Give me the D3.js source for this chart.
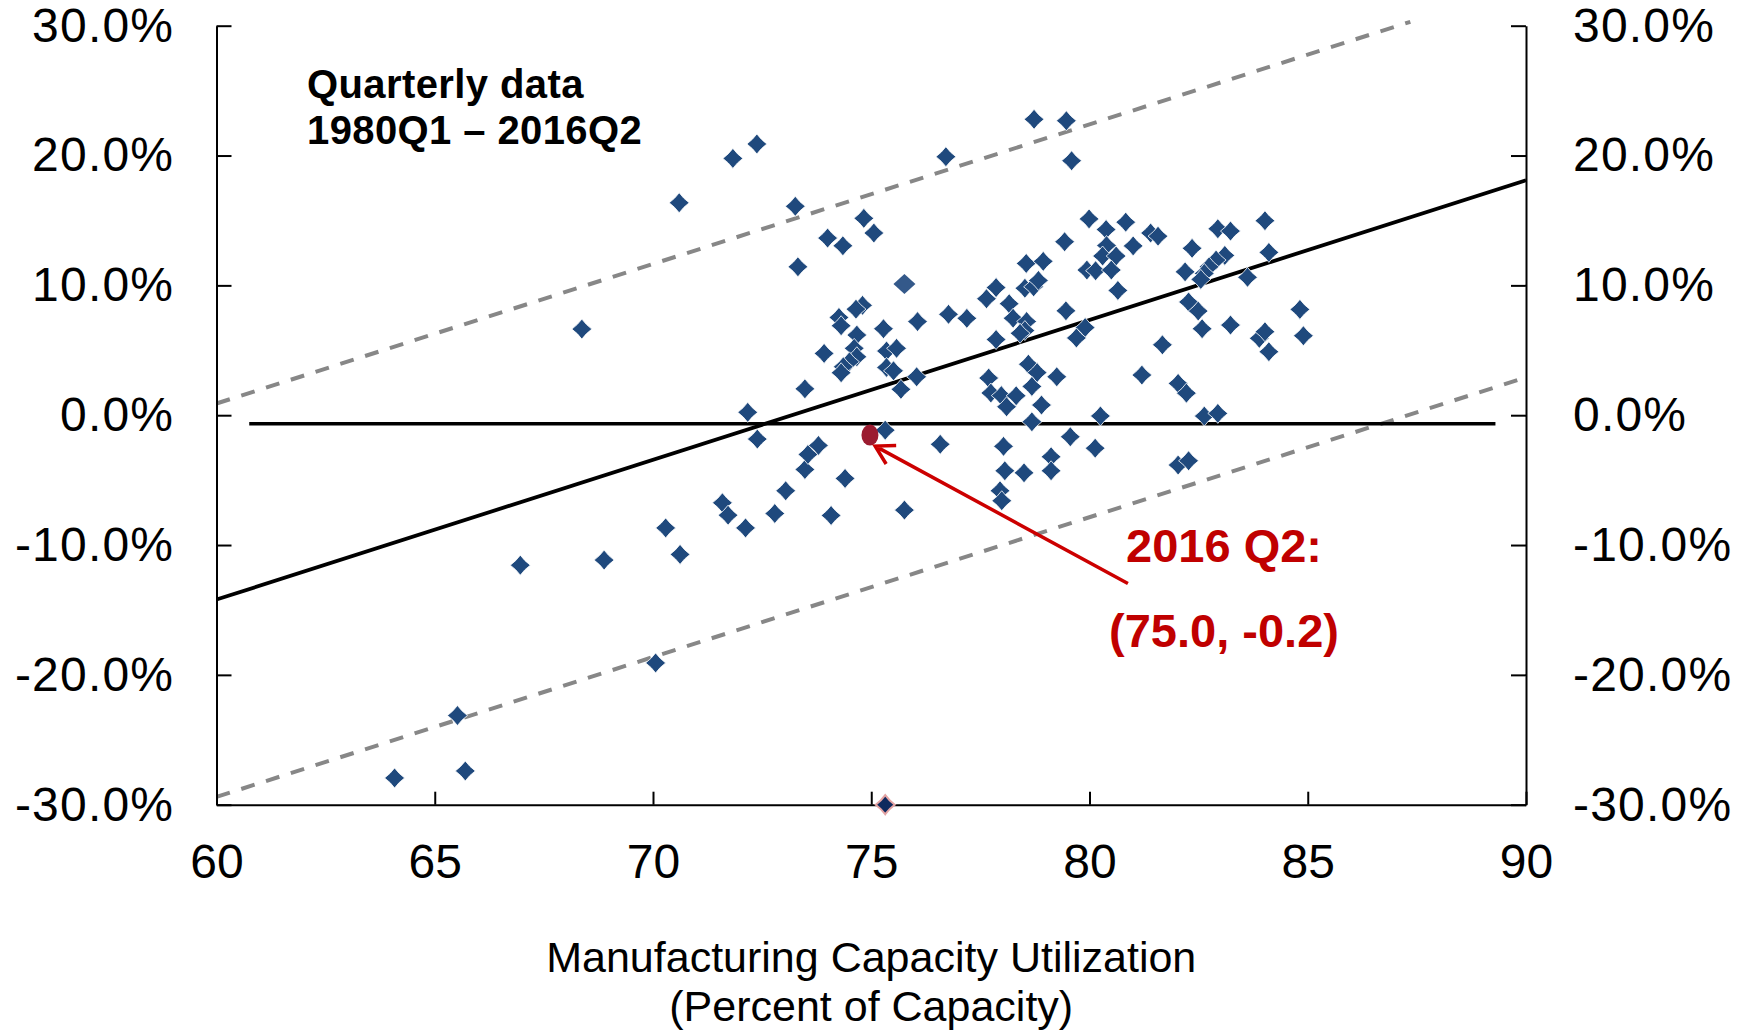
<!DOCTYPE html>
<html>
<head>
<meta charset="utf-8">
<script src="https://cdn.jsdelivr.net/npm/d3@7"></script>
<style>
    body { margin: 0; background: #fff; }
    svg text { font-family: "Liberation Sans", Arial, sans-serif; }
</style>
</head>
<body>
<svg id="chart"></svg>
<script>
// capacity utilization (x) and change (y, %) per quarter
const utilization = [
    64.08, 65.52, 65.70, 66.96, 68.88, 68.37, 70.06, 70.29, 70.62, 70.60,
    71.59, 71.72, 71.83, 72.12, 72.17, 72.39, 72.38, 72.79, 73.04, 73.26,
    73.32, 73.48, 73.48, 73.55, 73.79, 73.92, 74.00, 74.08, 74.40, 74.35,
    74.83, 75.06, 74.80, 74.65, 74.26, 74.31, 74.67, 74.61, 74.67, 74.50,
    74.36, 74.31, 75.28, 75.35, 75.58, 75.35, 75.51, 76.06, 76.04, 75.68,
    75.32, 75.76, 76.58, 76.77, 77.19, 76.71, 77.64, 77.86, 77.86, 78.16,
    78.25, 78.56, 78.52, 78.41, 78.52, 78.72, 78.83, 78.55, 78.94, 78.73,
    79.47, 79.59, 79.46, 79.90, 79.70, 79.43, 79.99, 80.83, 80.38, 81.40,
    81.57, 80.39, 81.00, 80.30, 80.61, 79.94, 80.14, 80.50, 80.65, 77.69,
    77.74, 77.98, 78.32, 78.10, 78.60, 78.80, 78.68, 78.90, 79.25, 80.25,
    78.68, 79.56, 80.13, 78.03, 78.06, 78.50, 79.12, 79.12, 77.95, 77.99,
    82.03, 82.27, 82.63, 82.94, 81.20, 82.03, 82.22, 81.67, 82.27, 82.49,
    82.58, 83.23, 83.89, 84.02, 84.11, 84.82, 84.90, 83.62, 84.11, 84.02,
    82.94, 83.23, 82.35, 82.19, 83.10, 82.90, 82.74, 82.63, 82.55
];
const change = [
    -27.94, -23.13, -27.40, -11.55, -11.16, 6.63, -19.08, -8.68, -10.72, 16.36,
    -6.75, -7.70, 19.78, -8.68, 0.22, -1.84, 20.89, -7.57, -5.82, 16.09,
    11.43, 2.03, -4.18, -3.02, -2.33, 4.76, 13.64, -7.72, -4.87, 13.05,
    15.16, 14.03, 8.46, 8.17, 7.53, 6.89, 6.17, 5.15, 4.50, 4.11,
    3.73, 3.27, 6.66, 4.94, 5.15, 3.68, 3.42, 7.21, 2.96, 1.99,
    -1.15, -7.31, -2.24, 7.77, 7.46, 19.91, 8.97, 9.83, 5.83, 8.59,
    7.47, 7.22, 6.52, 6.31, 9.78, 9.89, 10.38, 11.69, 11.85, 22.79,
    22.68, 19.60, 8.04, 6.75, 5.95, 13.36, 15.12, 14.87, 14.30, 14.03,
    13.79, 13.07, 13.04, 12.26, 12.26, 11.18, 11.13, 11.18, 9.61, 2.86,
    1.71, 1.51, 1.50, 0.65, 3.93, 3.28, 2.22, 0.78, 2.96, -0.06,
    -0.51, -1.66, -2.54, -2.40, -4.28, -4.44, -3.20, -4.28, -5.82, -6.59,
    -3.84, -3.51, -0.07, 0.14, 3.09, 2.45, 1.70, 5.42, 8.72, 8.02,
    6.66, 6.94, 5.92, 6.43, 4.89, 8.15, 6.12, 10.62, 12.54, 14.98,
    14.36, 14.18, 12.85, 11.04, 12.31, 11.95, 11.43, 10.92, 10.46
];

// highlighted markers
const bigPoint = [75.76, 10.10];
const edgePoint = [75.32, -30.0];
const latestPoint = [74.97, -1.53];

// fitted line and bands
const fitX = [60, 90];
const fitY = [-14.2, 18.1];
const upperX = [60, 87.35];
const upperY = [0.9, 30.3];
const lowerX = [60, 89.8];
const lowerY = [-29.4, 2.7];
const baseX = [60.75, 89.3];
const baseY = [-0.65, -0.65];

// annotation arrow (tail -> tip)
const arrowX = [80.88, 75.09];
const arrowY = [-12.96, -2.38];

const xTicks = [60, 65, 70, 75, 80, 85, 90];
const yTicks = [-30, -20, -10, 0, 10, 20, 30];
const noteLines = ['Quarterly data', '1980Q1 \u2013 2016Q2'];
const calloutLines = ['2016 Q2:', '(75.0, -0.2)'];
const titleLines = ['Manufacturing Capacity Utilization', '(Percent of Capacity)'];

const width = 1749;
const height = 1032;
const plot = { left: 216.5, right: 1526, top: 25.7, bottom: 804.7 };
const font = '"Liberation Sans", Arial, sans-serif';

const svg = d3.select('#chart')
              .attr('width', width)
              .attr('height', height)
              .style('display', 'block');

svg.append('rect')
   .attr('width', width)
   .attr('height', height)
   .attr('fill', '#ffffff');

const x = d3.scaleLinear().domain([60, 90]).range([plot.left, plot.right]);
const y = d3.scaleLinear().domain([-30, 30]).range([plot.bottom, plot.top]);

const line = d3.line()
               .x(d => x(d[0]))
               .y(d => y(d[1]));

const pairs = (xs, ys) => xs.map((v, i) => [v, ys[i]]);

// dashed bands
[[upperX, upperY], [lowerX, lowerY]].forEach(([xs, ys]) => {
    svg.append('path')
       .datum(pairs(xs, ys))
       .attr('d', line)
       .attr('fill', 'none')
       .attr('stroke', '#878787')
       .attr('stroke-width', 4)
       .attr('stroke-dasharray', '14,12');
});

// axes
const styleAxis = g => {
    g.attr('font-size', 48).attr('font-family', font);
    g.selectAll('path, line').attr('stroke', '#000').attr('stroke-width', 2);
    g.selectAll('text').attr('fill', '#000');
};
const pct = d => d.toFixed(1) + '%';

svg.append('g')
   .attr('transform', `translate(${plot.left},0)`)
   .call(d3.axisLeft(y).tickValues(yTicks).tickFormat(pct).tickSize(-15).tickSizeOuter(0).tickPadding(43.5))
   .call(styleAxis)
   .selectAll('text')
   .attr('letter-spacing', 1.2)
   .attr('dx', 1.2);

svg.append('g')
   .attr('transform', `translate(${plot.right},0)`)
   .call(d3.axisRight(y).tickValues(yTicks).tickFormat(pct).tickSize(-15).tickSizeOuter(0).tickPadding(47))
   .call(styleAxis)
   .selectAll('text')
   .attr('letter-spacing', 1.2);

svg.append('g')
   .attr('transform', `translate(0,${plot.bottom})`)
   .call(d3.axisBottom(x).tickValues(xTicks).tickFormat(d3.format('d')).tickSize(-13).tickSizeOuter(0).tickPadding(39))
   .call(styleAxis);

// zero reference and fitted line
svg.append('path')
   .datum(pairs(baseX, baseY))
   .attr('d', line)
   .attr('stroke', '#000')
   .attr('stroke-width', 3.5);

svg.append('path')
   .datum(pairs(fitX, fitY))
   .attr('d', line)
   .attr('stroke', '#000')
   .attr('stroke-width', 3.8);

// diamond marker with slightly pinched sides
const diamond = h => {
    const c = h * 0.42;
    return `M0,${-h}Q${c},${-c} ${h},0Q${c},${c} 0,${h}Q${-c},${c} ${-h},0Q${-c},${-c} 0,${-h}Z`;
};

svg.append('g')
   .selectAll('path')
   .data(utilization.map((u, i) => [u, change[i]]))
   .join('path')
   .attr('d', diamond(10))
   .attr('transform', d => `translate(${x(d[0])},${y(d[1])})`)
   .attr('fill', '#1f497d')
   .attr('stroke', '#ffffff')
   .attr('stroke-width', 0.8);

svg.append('path')
   .attr('d', `M0,-10L11,0L0,10L-11,0Z`)
   .attr('transform', `translate(${x(bigPoint[0])},${y(bigPoint[1])})`)
   .attr('fill', '#34598a');

svg.append('path')
   .attr('d', diamond(9.5))
   .attr('transform', `translate(${x(edgePoint[0])},${y(edgePoint[1])})`)
   .attr('fill', '#0d2a5e')
   .attr('stroke', '#e3a3a3')
   .attr('stroke-width', 2);

// 2016 Q2 point
svg.append('ellipse')
   .attr('cx', x(latestPoint[0]))
   .attr('cy', y(latestPoint[1]))
   .attr('rx', 8.5)
   .attr('ry', 10.5)
   .attr('fill', '#9b1b30');

// arrow
const tail = [x(arrowX[0]), y(arrowY[0])];
const tip = [x(arrowX[1]), y(arrowY[1])];
const ang = Math.atan2(tail[1] - tip[1], tail[0] - tip[0]);
const arm = a => [tip[0] + 21 * Math.cos(ang + a), tip[1] + 21 * Math.sin(ang + a)];
const a1 = arm(-Math.PI / 6);
const a2 = arm(Math.PI / 6);

svg.append('path')
   .attr('d', `M${tail}L${tip}M${a1}L${tip}L${a2}`)
   .attr('fill', 'none')
   .attr('stroke', '#cc0000')
   .attr('stroke-width', 3.5);

// texts
svg.append('g')
   .selectAll('text')
   .data(noteLines)
   .join('text')
   .attr('x', 307)
   .attr('y', (d, i) => 98 + i * 46)
   .attr('font-size', 40)
   .attr('font-weight', 'bold')
   .attr('letter-spacing', 0.4)
   .attr('fill', '#000')
   .text(d => d);

svg.append('g')
   .selectAll('text')
   .data(calloutLines)
   .join('text')
   .attr('x', 1224)
   .attr('y', (d, i) => 562 + i * 85)
   .attr('text-anchor', 'middle')
   .attr('font-size', 47)
   .attr('font-weight', 'bold')
   .attr('fill', '#c00000')
   .text(d => d);

svg.append('g')
   .selectAll('text')
   .data(titleLines)
   .join('text')
   .attr('x', (plot.left + plot.right) / 2)
   .attr('y', (d, i) => 972 + i * 49)
   .attr('text-anchor', 'middle')
   .attr('font-size', 43)
   .attr('fill', '#000')
   .text(d => d);
</script>
</body>
</html>
